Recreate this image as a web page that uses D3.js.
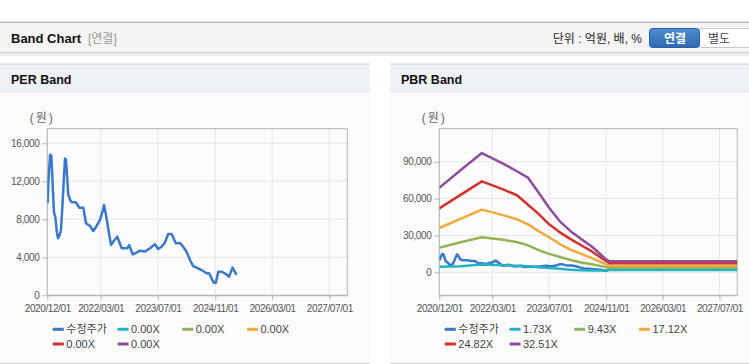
<!DOCTYPE html>
<html><head><meta charset="utf-8">
<script src="https://cdn.jsdelivr.net/npm/d3@7"></script>
<style>
body{margin:0;background:#fff;}
svg{display:block;font-family:"Liberation Sans",Arial,"Noto Sans CJK KR",sans-serif;}
</style>
</head><body>
<svg id="c" width="749" height="364"></svg>
<script>
// ---------------- DATA ----------------
const priceDates = ["2020-12-04","2020-12-11","2020-12-18","2020-12-25","2021-01-04","2021-01-11","2021-01-18","2021-01-27","2021-02-07","2021-02-22","2021-03-02","2021-03-15","2021-03-28","2021-04-09","2021-04-22","2021-05-01","2021-05-08","2021-05-15","2021-05-29","2021-06-15","2021-06-27","2021-08-02","2021-08-31","2021-10-04","2021-10-27","2021-11-30","2021-12-28","2022-01-25","2022-02-23","2022-03-20","2022-03-29","2022-04-15","2022-05-28","2022-06-25","2022-07-20","2022-08-27","2022-10-13","2022-10-30","2022-11-28","2022-12-30","2023-01-30","2023-03-13","2023-04-25","2023-06-06","2023-07-03","2023-08-01","2023-08-30","2023-09-27","2023-10-26","2023-12-01","2024-01-10","2024-02-16","2024-03-01","2024-04-04","2024-04-27","2024-06-08","2024-07-21","2024-08-19","2024-09-10","2024-09-30","2024-10-20","2024-11-06","2024-11-26","2024-12-25","2025-01-30","2025-02-27","2025-03-28","2025-05-01"];
const priceValues = [9700,12100,13500,14800,14700,13000,11000,8700,8270,6500,6000,6300,6870,9500,12500,14400,14300,13200,10560,10000,9790,9790,9220,9220,7580,7290,6770,7300,7930,9000,9500,8450,5290,5800,6170,4950,4950,5290,4315,4500,4695,4600,4950,5370,4870,5120,5540,6450,6450,5470,5470,4840,4590,3610,3080,2840,2560,2320,2320,1790,1330,1330,2490,2490,2240,1960,2910,2140];

const bandDates = ["2020-12-01","2021-06-01","2021-12-01","2022-06-01","2022-10-01","2023-01-01","2023-04-01","2023-07-01","2023-10-01","2024-01-01","2024-04-01","2024-07-01","2024-11-01","2024-12-01","2027-12-01"];
const pbrBand173  = [4600,5000,6300,5800,5300,5000,4200,3400,2800,2000,1700,1400,1500,1900,1900];
const pbrBand943  = [20000,24500,28500,26500,24500,22000,18000,15000,12500,10000,8000,6500,4200,3700,3700];
const pbrBand1712 = [36000,43500,51000,46500,43000,39000,33500,28500,23000,18500,15000,11500,6500,5400,5400];
const pbrBand2482 = [52000,63000,74000,67500,62500,55000,47500,39000,32500,27000,22000,17000,9000,7300,7300];
const pbrBand3251 = [68800,83000,97000,88500,82000,77000,65000,52500,41500,33500,27000,21000,10500,8900,8900];

const xTickLabels = ["2020/12/01","2022/03/01","2023/07/01","2024/11/01","2026/03/01","2027/07/01"];
const perYTicks = [0,4000,8000,12000,16000];
const pbrYTicks = [0,30000,60000,90000];
const perLegend = ["수정주가","0.00X","0.00X","0.00X","0.00X","0.00X"];
const pbrLegend = ["수정주가","1.73X","9.43X","17.12X","24.82X","32.51X"];
const seriesColors = ["#3a78c9","#22b3c8","#8fb552","#f2a93b","#d3322c","#8e4c9d"];

// ---------------- RENDER ----------------
const parse = d3.timeParse("%Y-%m-%d");
const tparse = d3.timeParse("%Y/%m/%d");
const svg = d3.select("#c");

// top header
svg.append("rect").attr("x",0).attr("y",0).attr("width",749).attr("height",364).attr("fill","#fff");
svg.append("rect").attr("x",0).attr("y",53).attr("width",749).attr("height",3).attr("fill","#ececec");
svg.append("rect").attr("x",0).attr("y",22).attr("width",749).attr("height",31).attr("fill","#f4f4f4");
svg.append("rect").attr("x",0).attr("y",21.5).attr("width",749).attr("height",1.5).attr("fill","#bdbdbd");
svg.append("rect").attr("x",0).attr("y",52).attr("width",749).attr("height",1).attr("fill","#cfcfcf");
svg.append("text").attr("x",11).attr("y",42.5).attr("font-size",13).attr("font-weight","bold").attr("fill","#111").text("Band Chart");
svg.append("text").attr("x",88).attr("y",42.5).attr("font-size",12).attr("fill","#999").text("[연결]");
svg.append("text").attr("x",642).attr("y",42.5).attr("font-size",12).attr("fill","#222").attr("text-anchor","end").text("단위 : 억원, 배, %");
const defs = svg.append("defs");
const g1 = defs.append("linearGradient").attr("id","btn").attr("x1",0).attr("y1",0).attr("x2",0).attr("y2",1);
g1.append("stop").attr("offset","0").attr("stop-color","#4d8bd2");
g1.append("stop").attr("offset","1").attr("stop-color","#2d6ab3");
svg.append("rect").attr("x",699).attr("y",28.5).attr("width",60).attr("height",19).attr("rx",3).attr("fill","#fff").attr("stroke","#c9c9c9");
svg.append("rect").attr("x",649.5).attr("y",28.5).attr("width",50).attr("height",19).attr("rx",3).attr("fill","url(#btn)").attr("stroke","#2b62a6");
svg.append("text").attr("x",675).attr("y",42.5).attr("font-size",12).attr("font-weight","bold").attr("fill","#fff").attr("text-anchor","middle").text("연결");
svg.append("text").attr("x",719).attr("y",42.5).attr("font-size",12).attr("fill","#444").attr("text-anchor","middle").text("별도");

function drawPanel(o){
  const g = svg.append("g");
  // panel
  g.append("rect").attr("x",o.px).attr("y",64).attr("width",o.pw).attr("height",299).attr("fill","#fbfbfb");
  g.append("rect").attr("x",o.px).attr("y",64).attr("width",o.pw).attr("height",29).attr("fill","#eef2f7");
  g.append("rect").attr("x",o.px).attr("y",63.5).attr("width",o.pw).attr("height",1.2).attr("fill","#d6d6d6");
  g.append("rect").attr("x",o.px).attr("y",362.5).attr("width",o.pw).attr("height",1.5).attr("fill","#dcdcdc");
  g.append("text").attr("x",o.px+11).attr("y",84).attr("font-size",12.5).attr("font-weight","bold").attr("fill","#111").text(o.title);

  const x = d3.scaleTime().domain([parse("2020-12-01"),parse("2027-12-01")]).range([o.x0,o.x1]);
  const y = d3.scaleLinear().domain(o.yDomain).range([295.3,128.7]);
  const tickDates = xTickLabels.map(tparse);

  // grid
  g.append("rect").attr("x",o.x0).attr("y",128.7).attr("width",o.x1-o.x0).attr("height",166.6).attr("fill","#fcfcfc");
  g.selectAll(".vg").data(tickDates).enter().append("line")
    .attr("x1",d=>x(d)).attr("x2",d=>x(d)).attr("y1",128.7).attr("y2",295.3).attr("stroke","#e6e6e6");
  g.selectAll(".hg").data(o.yTicks).enter().append("line")
    .attr("x1",o.x0).attr("x2",o.x1).attr("y1",d=>y(d)).attr("y2",d=>y(d)).attr("stroke","#e6e6e6");
  g.append("rect").attr("x",o.x0).attr("y",128.7).attr("width",o.x1-o.x0).attr("height",166.6)
    .attr("fill","none").attr("stroke","#b4b4b4");

  // axes
  const xa = g.append("g").attr("transform",`translate(0,295.3)`)
    .call(d3.axisBottom(x).tickValues(tickDates).tickFormat(d3.timeFormat("%Y/%m/%d")).tickSize(5).tickSizeOuter(0));
  xa.select(".domain").attr("stroke","#b4b4b4");
  xa.selectAll(".tick line").attr("stroke","#b4b4b4");
  xa.selectAll("text").attr("fill","#555").attr("font-size",10).attr("letter-spacing","-0.4px").attr("dy","0.9em")
    .attr("font-family","\"Liberation Sans\",Arial,sans-serif");
  const ya = g.append("g").attr("transform",`translate(${o.x0},0)`)
    .call(d3.axisLeft(y).tickValues(o.yTicks).tickFormat(d3.format(",")).tickSize(5).tickSizeOuter(0));
  ya.select(".domain").remove();
  ya.selectAll(".tick line").attr("stroke","#b4b4b4");
  ya.selectAll("text").attr("fill","#555").attr("font-size",10).attr("letter-spacing","-0.4px").attr("x",-8)
    .attr("font-family","\"Liberation Sans\",Arial,sans-serif");
  g.append("text").attr("x",o.x0-5).attr("y",122).attr("font-size",12).attr("fill","#666")
    .attr("text-anchor","middle").attr("letter-spacing","2px").text("(원)");

  // lines
  const clip = "clip"+o.id;
  defs.append("clipPath").attr("id",clip).append("rect").attr("x",o.x0).attr("y",128.7).attr("width",o.x1-o.x0).attr("height",166.6);
  const line = d3.line().x(d=>x(d[0])).y(d=>y(d[1]));
  const lg = g.append("g").attr("clip-path",`url(#${clip})`);
  o.series.forEach(s=>{
    const pts = s.dates.map((d,i)=>[parse(d), s.values[i]]);
    lg.append("path").datum(pts).attr("d",line).attr("fill","none")
      .attr("stroke",s.color).attr("stroke-width",2.5).attr("stroke-linejoin","round");
  });

  // legend
  o.legend.forEach((t,i)=>{
    const col = i%4, row = Math.floor(i/4);
    const lx = o.x0 + 5.5 + col*64.7, ly = 329.3 + row*14.7;
    g.append("line").attr("x1",lx).attr("x2",lx+11).attr("y1",ly).attr("y2",ly)
      .attr("stroke",seriesColors[i]).attr("stroke-width",3);
    g.append("text").attr("x",lx+13.5).attr("y",ly+4).attr("font-size",11).attr("fill","#444").text(t);
  });
}

drawPanel({
  id:"per", px:0, pw:370, title:"PER Band", x0:47.3, x1:347.3,
  yDomain:[0,17537], yTicks:perYTicks, legend:perLegend,
  series:[{dates:priceDates, values:priceValues, color:seriesColors[0]}]
});
drawPanel({
  id:"pbr", px:390, pw:359, title:"PBR Band", x0:439.3, x1:737.3,
  yDomain:[-18715,116850], yTicks:pbrYTicks, legend:pbrLegend,
  series:[
    {dates:priceDates, values:priceValues, color:seriesColors[0]},
    {dates:bandDates, values:pbrBand173, color:seriesColors[1]},
    {dates:bandDates, values:pbrBand943, color:seriesColors[2]},
    {dates:bandDates, values:pbrBand1712, color:seriesColors[3]},
    {dates:bandDates, values:pbrBand2482, color:seriesColors[4]},
    {dates:bandDates, values:pbrBand3251, color:seriesColors[5]}
  ]
});
</script>
</body></html>
